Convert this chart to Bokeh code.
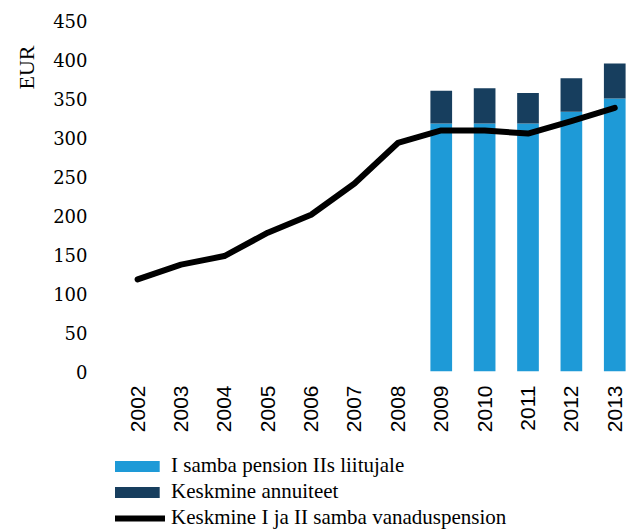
import math
from bokeh.plotting import figure
from bokeh.layouts import column
from bokeh.models import (Range1d, FixedTicker, Legend, LegendItem, Title,
                          ColumnDataSource)
from bokeh.embed import file_html
from bokeh.resources import INLINE

# ---- data ----
years = [2002, 2003, 2004, 2005, 2006, 2007, 2008, 2009, 2010, 2011, 2012, 2013]
avg_pension = [118, 137, 148, 178, 201, 241, 293, 309, 309, 305, 321, 338]

bar_years = [2009, 2010, 2011, 2012, 2013]
pillar1 = [318, 318, 318, 333, 350]
annuity = [42, 45, 39, 43, 45]

y_ticks = [0, 50, 100, 150, 200, 250, 300, 350, 400, 450]

label_pillar1 = "I samba pension IIs liitujale"
label_annuity = "Keskmine annuiteet"
label_line = "Keskmine I ja II samba vanaduspension"

LIGHT = "#1e9ad7"
DARK = "#173e5e"

bar_src = ColumnDataSource(dict(
    x=bar_years,
    p1=pillar1,
    top=[a + b for a, b in zip(pillar1, annuity)],
))
line_src = ColumnDataSource(dict(x=years, y=avg_pension))


def draw(fig):
    a = fig.vbar(x="x", bottom=0, top="p1", width=0.5, source=bar_src,
                 fill_color=LIGHT, line_color=None)
    b = fig.vbar(x="x", bottom="p1", top="top", width=0.5, source=bar_src,
                 fill_color=DARK, line_color=None)
    c = fig.line(x="x", y="y", source=line_src, line_color="black",
                 line_width=6, line_cap="round", line_join="round")
    return a, b, c


# ---- main chart ----
p = figure(width=629, height=435, output_backend="svg", toolbar_location=None,
           x_range=Range1d(2001.49, 2013.34), y_range=Range1d(0, 450),
           min_border_left=115, min_border_right=0, min_border_top=20,
           min_border_bottom=0)
p.outline_line_color = None
p.background_fill_color = "white"
p.border_fill_color = "white"
p.xgrid.grid_line_color = None
p.ygrid.grid_line_color = None
draw(p)

p.xaxis.ticker = FixedTicker(ticks=years)
p.xaxis.major_label_orientation = math.pi / 2
p.xaxis.major_label_text_font = "Liberation Sans"
p.xaxis.major_label_text_font_size = "21px"
p.xaxis.major_label_text_color = "black"
p.xaxis.major_label_standoff = 8
p.xaxis.axis_line_color = None
p.xaxis.major_tick_line_color = None
p.xaxis.minor_tick_line_color = None

p.yaxis.ticker = FixedTicker(ticks=y_ticks)
p.yaxis.major_label_text_font = "DejaVu Serif"
p.yaxis.major_label_text_font_size = "18px"
p.yaxis.major_label_text_color = "black"
p.yaxis.major_label_standoff = 22
p.yaxis.axis_line_color = None
p.yaxis.major_tick_line_color = None
p.yaxis.minor_tick_line_color = None

eur = Title(text="EUR", align="right", text_font="Liberation Serif",
            text_font_size="22px", text_font_style="normal",
            text_color="black", offset=25, standoff=23)
p.add_layout(eur, "left")

# ---- legend strip (same renderers, out of view) ----
q = figure(width=629, height=97, output_backend="svg", toolbar_location=None,
           x_range=Range1d(0, 1), y_range=Range1d(-1000, -999),
           min_border_left=0, min_border_right=0, min_border_top=0,
           min_border_bottom=0)
q.axis.visible = False
q.grid.visible = False
q.outline_line_color = None
q.border_fill_color = "white"
r1, r2, r3 = draw(q)

legend = Legend(items=[
    LegendItem(label=label_pillar1, renderers=[r1]),
    LegendItem(label=label_annuity, renderers=[r2]),
    LegendItem(label=label_line, renderers=[r3]),
], location=(-8, 2), orientation="vertical")
legend.glyph_width = 58
legend.glyph_height = 14
legend.label_height = 20
legend.spacing = 1
legend.label_standoff = 6
legend.padding = 0
legend.margin = 0
legend.border_line_color = None
legend.background_fill_alpha = 0
legend.label_text_font = "Liberation Serif"
legend.label_text_font_size = "21px"
legend.label_text_color = "black"
legend.label_text_baseline = "middle"
q.add_layout(legend, "center")

layout = column(p, q, spacing=0)
open("out.html", "w").write(file_html(layout, INLINE))
